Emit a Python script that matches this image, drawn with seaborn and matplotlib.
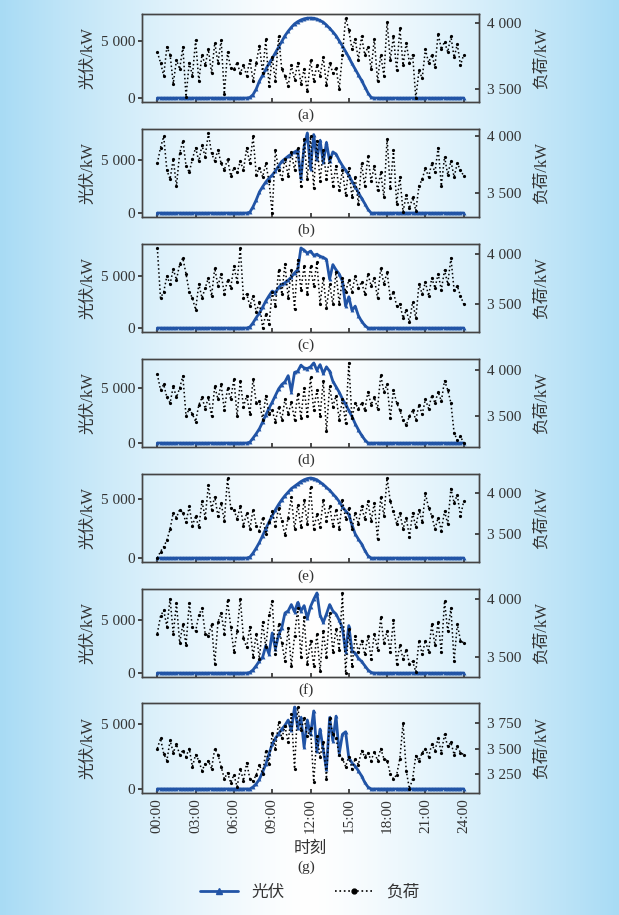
import numpy as np
import pandas as pd
import seaborn as sns
import matplotlib.pyplot as plt
from matplotlib.ticker import MultipleLocator, FuncFormatter
from matplotlib.lines import Line2D

# sample times, every 15 min
hours = np.arange(97) / 4
time_ticks = [0, 3, 6, 9, 12, 15, 18, 21, 24]
time_labels = ['00:00', '03:00', '06:00', '09:00', '12:00',
               '15:00', '18:00', '21:00', '24:00']
panel_tags = ['(a)', '(b)', '(c)', '(d)', '(e)', '(f)', '(g)']

# photovoltaic output, kW (night values are zero)
pv_a = [0] * 28 + [0, 50, 300, 800, 1500, 2000, 2550, 3050, 3500, 4000, 4500, 5000,
                   5500, 5900, 6250, 6550, 6750, 6900, 7000, 7060, 7070, 7050, 6980, 6850,
                   6700, 6450, 6150, 5850, 5500, 5050, 4600, 4100, 3600, 3050, 2550, 2050,
                   1550, 1000, 450, 50] + [0] * 29
pv_b = [0] * 28 + [0, 80, 600, 1250, 2000, 2500, 2950, 3300, 3600, 4000, 4450, 4900,
                   5150, 5400, 5600, 5800, 5950, 3300, 6300, 7600, 4200, 7450, 5100, 6900,
                   4800, 6700, 4900, 5800, 5600, 5000, 4500, 4050, 3600, 3000, 2500, 1950,
                   1400, 900, 350, 0] + [0] * 29
pv_c = [0] * 28 + [0, 100, 500, 1000, 1450, 2000, 2600, 3100, 3550, 3400, 3900, 4200,
                   4350, 4600, 4900, 5300, 5600, 7700, 7500, 7200, 7400, 7000, 7100, 6900,
                   6800, 6600, 4700, 6100, 5600, 5200, 4500, 2100, 3000, 1700, 2100, 1200,
                   650, 250, 0, 0] + [0] * 29
pv_d = [0] * 28 + [0, 80, 450, 850, 1300, 1900, 2550, 3150, 3700, 4300, 4900, 5300,
                   5550, 6100, 4650, 6400, 6500, 7050, 6800, 6750, 6900, 7250, 6600, 7100,
                   6300, 6900, 6500, 5600, 5100, 4600, 4000, 3500, 2950, 2400, 1750, 1200,
                   700, 300, 0, 0] + [0] * 29
pv_e = [0] * 28 + [0, 80, 420, 850, 1330, 1900, 2500, 3050, 3600, 4100, 4550, 4950,
                   5300, 5600, 5900, 6100, 6300, 6500, 6650, 6750, 6800, 6750, 6650, 6450,
                   6250, 6000, 5750, 5450, 5150, 4800, 4350, 4000, 3700, 2800, 2050, 1600,
                   1200, 650, 200, 0] + [0] * 29
pv_f = [0] * 28 + [0, 60, 300, 700, 1150, 1500, 2600, 1800, 3800, 2300, 3600, 4300,
                   5700, 5900, 6500, 5800, 6700, 5900, 6400, 5200, 6300, 7000, 7600, 5500,
                   4800, 5600, 6500, 5900, 5600, 5000, 4300, 2000, 4500, 2100, 1900, 1400,
                   1100, 700, 300, 50] + [0] * 29
pv_g = [0] * 28 + [0, 0, 150, 400, 750, 1300, 1900, 2700, 3450, 3900, 4250, 4600,
                   4900, 5300, 4500, 6300, 4700, 5500, 3200, 5300, 4200, 6000, 2900, 4600,
                   3000, 1500, 5500, 3700, 5600, 2700, 4200, 4400, 2400, 2000, 1750, 1400,
                   1000, 500, 150, 0] + [0] * 29

# load, kW
load_a = [3780, 3700, 3600, 3820, 3760, 3540, 3720, 3650, 3820, 3440, 3700, 3600,
          3870, 3560, 3760, 3680, 3800, 3620, 3850, 3700, 3870, 3460, 3780, 3660,
          3650, 3700, 3620, 3680, 3600, 3720, 3560, 3700, 3830, 3620, 3880, 3520,
          3740, 3560, 3900, 3650, 3600, 3520, 3680, 3570, 3700, 3540, 3650, 3480,
          3720, 3560, 3680, 3600, 3740, 3530, 3700, 3620, 3660, 3500, 3760, 4040,
          3950, 3800, 3880, 3720, 3900, 3760, 3820, 3650, 3880, 3560, 3760, 3600,
          4010, 3720, 3900, 3640, 3960, 3680, 3850, 3700, 3760, 3430, 3640, 3580,
          3800, 3700, 3760, 3670, 3920, 3800, 3860, 3780, 3900, 3740, 3840, 3680,
          3760]
load_b = [3760, 3900, 4000, 3700, 3620, 3800, 3560, 3850, 3960, 3740, 3680, 3800,
          3900, 3780, 3920, 3820, 4030, 3850, 3780, 3880, 3760, 3700, 3800, 3650,
          3720, 3680, 3780, 3700, 3900, 3760, 4000, 3660, 3720, 3640, 3760, 3600,
          3320, 3880, 3700, 3620, 3800, 3650, 3860, 3700, 3900, 3560, 3980, 3620,
          4000, 3540, 3960, 3600, 3880, 3620, 3820, 3560, 3740, 3520, 3700, 3480,
          3720, 3460, 3640, 3400, 3760, 3560, 3830, 3600, 3740, 3520, 3680, 3460,
          3980, 3540, 3880, 3400, 3640, 3330, 3480, 3360, 3460, 3340, 3560, 3620,
          3720, 3640, 3760, 3680, 3900, 3560, 3820, 3660, 3780, 3640, 3760, 3700,
          3650]
load_c = [4060, 3560, 3620, 3780, 3700, 3850, 3740, 3900, 3960, 3800, 3620, 3560,
          3440, 3700, 3560, 3660, 3760, 3580, 3860, 3680, 3800, 3600, 3740, 3660,
          3880, 3720, 4060, 3560, 3600, 3480, 3580, 3420, 3520, 3260, 3400, 3300,
          3620, 3480, 3840, 3600, 3900, 3560, 3840, 3450, 3940, 3640, 3880, 3600,
          3880, 3680, 3920, 3500, 3760, 3460, 3700, 3500, 3820, 3500, 3760, 3620,
          3740, 3620, 3780, 3660, 3720, 3600, 3800, 3680, 3760, 3560, 3860, 3700,
          3820, 3560, 3620, 3480, 3500, 3360, 3440, 3320, 3520, 3360, 3700, 3600,
          3720, 3580, 3760, 3660, 3800, 3640, 3840, 3700, 3960, 3640, 3680, 3580,
          3500]
load_d = [3950, 3780, 3840, 3700, 3640, 3820, 3700, 3800, 3930, 3500, 3580, 3520,
          3440, 3620, 3700, 3580, 3700, 3500, 3820, 3680, 3840, 3560, 3800, 3680,
          3900, 3500, 3880, 3600, 3720, 3520, 3900, 3640, 3660, 3460, 3720, 3520,
          3560, 3440, 3600, 3460, 3680, 3520, 3650, 3460, 3740, 3480, 3800, 3500,
          3920, 3560, 3780, 3500, 3880, 3340, 3820, 3600, 3720, 3460, 3680, 3420,
          4070, 3480, 3640, 3580, 3640, 3560, 3760, 3620, 3700, 3580, 3940, 3760,
          3840, 3480, 3780, 3640, 3560, 3460, 3400, 3500, 3560, 3460, 3620, 3520,
          3680, 3580, 3720, 3640, 3760, 3660, 3880, 3780, 3640, 3320, 3240, 3280,
          3210]
load_e = [3200, 3280, 3340, 3420, 3560, 3760, 3700, 3800, 3760, 3640, 3840, 3600,
          3720, 3580, 3900, 3700, 4100, 3800, 3960, 3720, 3880, 3660, 4190, 3820,
          3800, 3680, 3840, 3600, 3760, 3560, 3800, 3600, 3540, 3700, 3500, 3640,
          3780, 3600, 3820, 3660, 3480, 3700, 3950, 3560, 3860, 3580, 3920, 3620,
          4080, 3560, 3740, 3580, 3920, 3660, 3840, 3600, 3800, 3560, 3920, 3680,
          3820, 3560, 3760, 3620, 3840, 3680, 3900, 3660, 3880, 3440, 3960, 3720,
          4190, 3900, 3780, 3620, 3760, 3560, 3700, 3460, 3760, 3580, 3800, 3640,
          4000, 3820, 3720, 3560, 3700, 3540, 3780, 3620, 4060, 3880, 3980, 3720,
          3900]
load_f = [3700, 3850, 3900, 3760, 4000, 3700, 3960, 3620, 3780, 3600, 3960, 3760,
          3720, 3860, 3920, 3700, 3680, 3780, 3440, 3800, 3880, 3700, 3990, 3760,
          3540, 3720, 4000, 3660, 3580, 3760, 3500, 3700, 3480, 3800, 3580, 3860,
          3980, 3520, 3780, 3620, 3460, 3750, 3420, 3680, 3920, 3500, 3840, 3440,
          3640, 3420, 3700, 3380, 3720, 3500, 3880, 3540, 3740, 3560, 4050, 3360,
          3740, 3420, 3680, 3540, 3640, 3520, 3680, 3480, 3700, 3560, 3840, 3620,
          3720, 3540, 3820, 3440, 3600, 3480, 3560, 3440, 3460, 3370, 3640, 3520,
          3640, 3540, 3780, 3600, 3800, 3540, 3980, 3720, 3920, 3460, 3780, 3640,
          3620]
load_g = [3500, 3600, 3450, 3380, 3580, 3460, 3540, 3440, 3480, 3420, 3500, 3320,
          3440, 3380, 3280, 3350, 3380, 3300, 3500, 3440, 3320, 3200, 3260, 3160,
          3240, 3120, 3300, 3180, 3360, 3200, 3180, 3240, 3340, 3250, 3480, 3350,
          3650, 3500, 3760, 3600, 3720, 3560, 3840, 3300, 3910, 3680, 3800, 3620,
          3700, 3170, 3620, 3420, 3560, 3200, 3800, 3640, 3600, 3440, 3400, 3320,
          3420, 3300, 3400, 3340, 3480, 3420, 3460, 3380, 3470, 3380, 3500, 3400,
          3380, 3250, 3200, 3240, 3400, 3750, 3280, 3100, 3200, 3430, 3380, 3460,
          3500, 3420, 3540, 3480, 3600, 3460, 3640, 3520, 3560, 3440, 3520, 3460,
          3440]

pv_series = [pv_a, pv_b, pv_c, pv_d, pv_e, pv_f, pv_g]
load_series = [load_a, load_b, load_c, load_d, load_e, load_f, load_g]

PV_COLOR = '#2154a6'
TEXT_COLOR = '#333333'

sns.set_theme(style='ticks')
plt.rcParams['font.family'] = ['Liberation Serif', 'Noto Sans CJK SC']
plt.rcParams['font.size'] = 11
plt.rcParams['text.color'] = TEXT_COLOR
plt.rcParams['axes.labelcolor'] = TEXT_COLOR
plt.rcParams['xtick.color'] = TEXT_COLOR
plt.rcParams['ytick.color'] = TEXT_COLOR
plt.rcParams['axes.edgecolor'] = '#444444'
plt.rcParams['axes.unicode_minus'] = False

W, H = 619, 915
fig = plt.figure(figsize=(W / 100, H / 100), dpi=100)

# light blue side gradient as background
bg = fig.add_axes([0, 0, 1, 1], zorder=-10)
t = np.abs(np.linspace(-1, 1, 400)) ** 1.3
edge = np.array([0.66, 0.86, 0.96])
grad = (1 - t)[:, None] * np.ones(3) + t[:, None] * edge
bg.imshow(grad[None, :, :], aspect='auto', extent=[0, 1, 0, 1])
bg.set_axis_off()

thousands = FuncFormatter(lambda v, p: f'{int(round(v)):,}'.replace(',', ' '))

left_px, width_px = 142, 337
tops = [14, 129, 244, 359, 474, 589, 703]
heights = [88, 88, 88, 88, 88, 88, 90]
tag_y = [115, 230, 345, 460, 576, 690, 867]

for i in range(7):
    top, h = tops[i], heights[i]
    ax = fig.add_axes([left_px / W, 1 - (top + h) / H, width_px / W, h / H])
    ax.set_facecolor('none')
    ax2 = ax.twinx()
    df = pd.DataFrame({'time': hours, 'pv': pv_series[i], 'load': load_series[i]})

    sns.lineplot(data=df, x='time', y='pv', ax=ax, color=PV_COLOR, linewidth=2.0,
                 marker='^', markersize=2.8, markeredgewidth=0)
    sns.lineplot(data=df, x='time', y='load', ax=ax2, color='black', linestyle=':',
                 linewidth=1.1, marker='o', markersize=2.3, markeredgewidth=0)

    ax.set_xticks(time_ticks)
    ax.yaxis.set_major_locator(MultipleLocator(5000))
    ax.yaxis.set_major_formatter(thousands)
    ax2.yaxis.set_major_locator(MultipleLocator(250 if i == 6 else 500))
    ax2.yaxis.set_major_formatter(thousands)

    ax.set_ylabel('光伏/kW', labelpad=3)
    ax2.set_ylabel('负荷/kW', labelpad=9)
    ax.tick_params(axis='y', direction='out', length=3, pad=2)
    ax2.tick_params(axis='y', direction='in', length=3, pad=6)
    ax.tick_params(axis='x', direction='in', length=3)

    if i == 6:
        ax.set_xticklabels(time_labels, rotation=90)
        ax.set_xlabel('时刻', labelpad=6)
    else:
        ax.tick_params(axis='x', labelbottom=False)
        ax.set_xlabel('')

    for a in (ax, ax2):
        for s in a.spines.values():
            s.set_color('#444444')
            s.set_linewidth(1.0)

    fig.text(306 / W, 1 - tag_y[i] / H, panel_tags[i], ha='center', va='center')

handles = [Line2D([], [], color=PV_COLOR, linewidth=2.0, marker='^', markersize=5),
           Line2D([], [], color='black', linestyle=':', linewidth=1.2, marker='o',
                  markersize=3.5)]
fig.legend(handles, ['光伏', '负荷'], loc='center', bbox_to_anchor=(0.5, 1 - 893 / H),
           ncol=2, frameon=False, handlelength=2.3, columnspacing=3.0, fontsize=12)

fig.savefig('out.png', dpi=100)
